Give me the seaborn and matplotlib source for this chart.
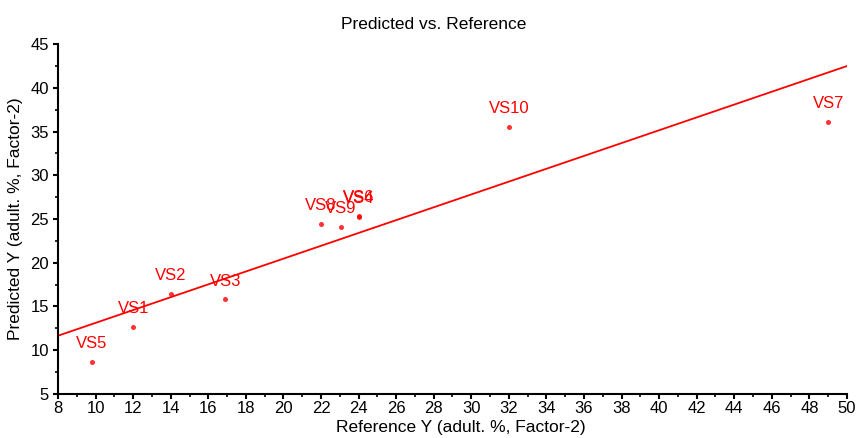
import numpy as np
import pandas as pd
import matplotlib
matplotlib.use("Agg")
import matplotlib.pyplot as plt
from matplotlib.ticker import MultipleLocator
import seaborn as sns

# Sample names with reference and predicted values (adulteration %, Factor-2)
samples = ["VS5", "VS1", "VS2", "VS3", "VS8", "VS9", "VS6", "VS4", "VS10", "VS7"]
reference_y = [9.8, 12.0, 14.0, 16.9, 22.0, 23.05, 24.0, 24.0, 32.0, 49.0]
predicted_y = [8.7, 12.65, 16.45, 15.8, 24.4, 24.05, 25.4, 25.2, 35.55, 36.1]

df = pd.DataFrame({"sample": samples, "ref": reference_y, "pred": predicted_y})

sns.set_style("white")
plt.rcParams["font.family"] = ["Liberation Sans", "DejaVu Sans"]
plt.rcParams["text.color"] = "black"
plt.rcParams["axes.labelcolor"] = "black"

fig = plt.figure(figsize=(8.57, 4.38), dpi=100)
ax = fig.add_axes([0.0677, 0.1005, 0.9206, 0.799])
ax.set_xlim(8, 50)
ax.set_ylim(5, 45)

red = "#ff0000"
sns.regplot(data=df, x="ref", y="pred", ax=ax, ci=None, truncate=False,
            scatter_kws=dict(s=13, color=red, linewidths=0),
            line_kws=dict(color=red, lw=1.3))

for name, x, y in zip(samples, reference_y, predicted_y):
    ax.annotate(name, (x, y), xytext=(0, 10), textcoords="offset points",
                ha="center", va="baseline", color=red, fontsize=12)

ax.set_xlim(8, 50)
ax.set_ylim(5, 45)
ax.xaxis.set_major_locator(MultipleLocator(2))
ax.xaxis.set_minor_locator(MultipleLocator(1))
ax.yaxis.set_major_locator(MultipleLocator(5))
ax.yaxis.set_minor_locator(MultipleLocator(2.5))

for side in ["top", "right"]:
    ax.spines[side].set_visible(False)
for side in ["left", "bottom"]:
    ax.spines[side].set_color("black")
    ax.spines[side].set_linewidth(1.5)

ax.tick_params(which="major", direction="out", length=3.5, width=1.5,
               color="black", labelsize=12, labelcolor="black",
               bottom=True, left=True)
ax.tick_params(axis="x", which="major", pad=1.5)
ax.tick_params(axis="y", which="major", pad=3)
ax.tick_params(which="minor", direction="out", length=2, width=1.2,
               color="black", bottom=True, left=True)

ax.set_xlabel("Reference Y (adult. %, Factor-2)", fontsize=12.5, labelpad=0)
ax.xaxis.set_label_coords(0.511, -0.073, transform=ax.transAxes)
ax.xaxis.label.set_va("top")
ax.set_ylabel("Predicted Y (adult. %, Factor-2)", fontsize=12.5, labelpad=5)
ax.set_title("Predicted vs. Reference", fontsize=12.5, pad=11, x=0.4766,
             color="black")

fig.savefig("out.png", dpi=100)
